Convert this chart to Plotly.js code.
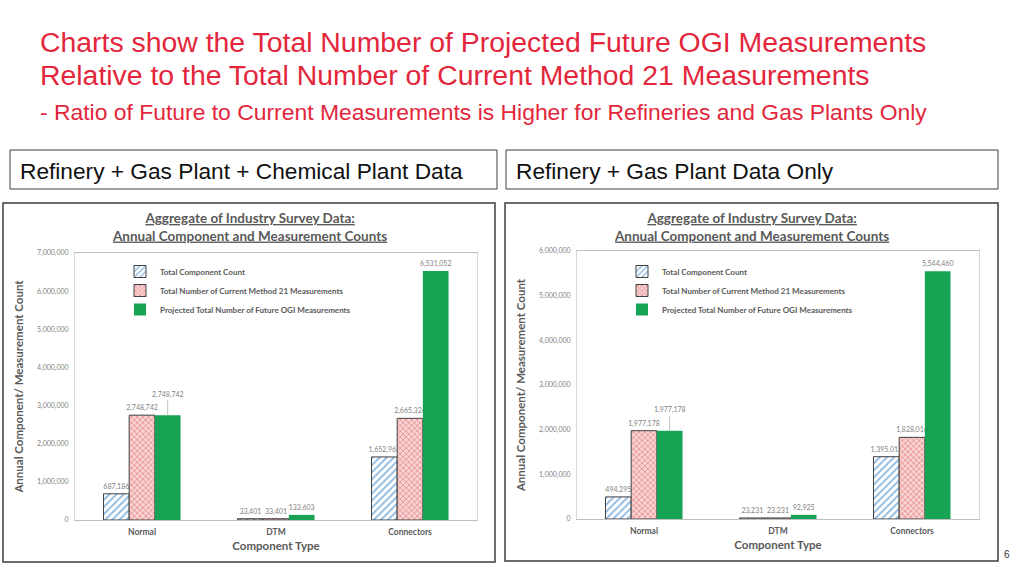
<!DOCTYPE html>
<html>
<head>
<meta charset="utf-8">
<script src="https://cdn.plot.ly/plotly-3.0.1.min.js"></script>
<style>
html,body{margin:0;padding:0;background:#fff;}
#chart{width:1024px;height:576px;}
</style>
</head>
<body>
<div id="chart"></div>
<script>
// ---------- data ----------
const categories = ['Normal', 'DTM', 'Connectors'];
const seriesNames = [
  'Total Component Count',
  'Total Number of Current Method 21 Measurements',
  'Projected Total Number of Future OGI Measurements'
];
// Refinery + Gas Plant + Chemical Plant Data
const allComponentCount = [687186, 33401, 1652961];
const allMethod21 = [2748742, 33401, 2665324];
const allFutureOGI = [2748742, 133603, 6531052];
const allTicks = [0, 1000000, 2000000, 3000000, 4000000, 5000000, 6000000, 7000000];
// Refinery + Gas Plant Data Only
const rgComponentCount = [494295, 23231, 1395013];
const rgMethod21 = [1977178, 23231, 1828016];
const rgFutureOGI = [1977178, 92925, 5544460];
const rgTicks = [0, 1000000, 2000000, 3000000, 4000000, 5000000, 6000000];

const slideTitle1 = 'Charts show the Total Number of Projected Future OGI Measurements';
const slideTitle2 = 'Relative to the Total Number of Current Method 21 Measurements';
const slideTitle3 = '- Ratio of Future to Current Measurements is Higher for Refineries and Gas Plants Only';
const panelLabels = ['Refinery + Gas Plant + Chemical Plant Data', 'Refinery + Gas Plant Data Only'];
const chartTitle = '<u>Aggregate of Industry Survey Data:</u><br><u>Annual Component and Measurement Counts</u>';
const xTitle = 'Component Type';
const yTitle = 'Annual Component/ Measurement Count';
const pageNumber = '6';

// ---------- helpers ----------
const W = 1024, H = 576;
const px = x => x / W;
const py = y => 1 - y / H;
const fmt = v => v.toLocaleString('en-US');
const CF = 'Lato, "Open Sans", sans-serif';
const SF = '"Liberation Sans", Arial, sans-serif';
const gray = '#595959';
const BARGAP = 0.425;
const leaderIdx = 0; // Normal OGI label lifted with a leader line

const styles = [
  {marker: {color: '#ffffff', pattern: {shape: '/', fgcolor: '#8db8e2', bgcolor: '#ffffff', size: 5, solidity: 0.35}, line: {color: '#404040', width: 1}}},
  {marker: {color: '#f4b8b8', pattern: {shape: 'x', fgcolor: '#e07c7c', bgcolor: '#f9d3d3', size: 4, solidity: 0.3}, line: {color: '#404040', width: 1}}},
  {marker: {color: '#17a354', line: {color: '#17a354', width: 0}}}
];

const panels = [
  {xa: 'x', ya: 'y', legend: 'legend', series: [allComponentCount, allMethod21, allFutureOGI], ticks: allTicks,
   plot: {l: 75, r: 477, t: 253, b: 520}, box: {l: 3, r: 495, t: 203, b: 562}, label: {l: 10, r: 497}, center: 249, legendX: 120},
  {xa: 'x2', ya: 'y2', legend: 'legend2', series: [rgComponentCount, rgMethod21, rgFutureOGI], ticks: rgTicks,
   plot: {l: 577, r: 979, t: 251, b: 519}, box: {l: 505, r: 998, t: 203, b: 561}, label: {l: 506, r: 998}, center: 751, legendX: 622}
];

const traces = [];
const annotations = [];
const shapes = [];
const layout = {
  width: W, height: H,
  margin: {l: 0, r: 0, t: 0, b: 0},
  paper_bgcolor: '#ffffff', plot_bgcolor: '#ffffff',
  barmode: 'group', bargap: BARGAP, bargroupgap: 0,
  hovermode: false, showlegend: true,
  font: {family: CF, color: gray}
};

panels.forEach((p, pi) => {
  const sfx = pi === 0 ? '' : '2';
  p.series.forEach((vals, si) => {
    traces.push(Object.assign({
      type: 'bar', x: categories, y: vals, name: seriesNames[si],
      xaxis: p.xa, yaxis: p.ya, legend: p.legend,
      texttemplate: '%{y:,}',
      textposition: categories.map((c, i) => (si === 2 && i === leaderIdx) ? 'none' : 'outside'),
      textfont: {family: CF, size: 7, color: '#7f7f7f'},
      constraintext: 'none', cliponaxis: false
    }, styles[si]));
  });
  // lifted label with leader line
  const ogi = p.series[2];
  annotations.push({
    xref: p.xa, yref: p.ya, x: leaderIdx + (1 - BARGAP) / 3, y: ogi[leaderIdx],
    text: fmt(ogi[leaderIdx]), showarrow: true, arrowhead: 0, arrowwidth: 0.7, arrowcolor: '#a6a6a6',
    ax: 0, ay: -21, font: {family: CF, size: 7, color: '#7f7f7f'}
  });
  layout['xaxis' + sfx] = {
    domain: [px(p.plot.l), px(p.plot.r)], anchor: p.ya, type: 'category',
    showline: true, linecolor: '#bfbfbf', linewidth: 1, mirror: true, ticks: '',
    ticklabelstandoff: 4,
    tickfont: {family: CF, size: 8.5, color: gray, weight: 700},
    title: {text: xTitle, font: {family: CF, size: 11.5, color: gray, weight: 700}, standoff: 5},
    fixedrange: true
  };
  layout['yaxis' + sfx] = {
    domain: [py(p.plot.b), py(p.plot.t)], anchor: p.xa,
    range: [0, p.ticks[p.ticks.length - 1]], tickvals: p.ticks, tickformat: ',',
    showgrid: false, zeroline: false, showline: true, linecolor: '#d9d9d9', mirror: true, ticks: '',
    ticklabelstandoff: 4,
    tickfont: {family: CF, size: 7, color: '#7f7f7f'},
    title: {text: yTitle, font: {family: CF, size: 11.5, color: gray, weight: 700}, standoff: 10},
    fixedrange: true
  };
  layout[p.legend] = {
    x: px(p.legendX), y: py(257), xanchor: 'left', yanchor: 'top',
    bgcolor: 'rgba(0,0,0,0)', borderwidth: 0,
    font: {family: CF, size: 8, color: gray, weight: 700},
    itemclick: false, itemdoubleclick: false
  };
  // chart title
  annotations.push({
    xref: 'paper', yref: 'paper', x: px(p.center), y: py(227), xanchor: 'center', yanchor: 'middle',
    text: chartTitle, showarrow: false, font: {family: CF, size: 13.5, color: gray, weight: 700}
  });
  // panel frame
  shapes.push({type: 'rect', xref: 'paper', yref: 'paper', x0: px(p.box.l), x1: px(p.box.r), y0: py(p.box.b), y1: py(p.box.t),
    line: {color: '#3f3f3f', width: 1.5}, fillcolor: 'rgba(0,0,0,0)'});
  // label box
  shapes.push({type: 'rect', xref: 'paper', yref: 'paper', x0: px(p.label.l), x1: px(p.label.r), y0: py(189), y1: py(150),
    line: {color: '#3f3f3f', width: 1}, fillcolor: 'rgba(0,0,0,0)'});
  annotations.push({
    xref: 'paper', yref: 'paper', x: px(p.label.l + 8), y: py(171), xanchor: 'left', yanchor: 'middle',
    text: panelLabels[pi], showarrow: false, font: {family: SF, size: 22.7, color: '#111111'}
  });
});

// slide title
const red = '#e3263b';
[[slideTitle1, 42.5, 28.4], [slideTitle2, 75.5, 28.4], [slideTitle3, 112, 22.9]].forEach(([t, y, s]) => {
  annotations.push({xref: 'paper', yref: 'paper', x: px(38), y: py(y), xanchor: 'left', yanchor: 'middle',
    text: t, showarrow: false, font: {family: SF, size: s, color: red}});
});
annotations.push({xref: 'paper', yref: 'paper', x: px(1007), y: py(554), xanchor: 'center', yanchor: 'middle',
  text: pageNumber, showarrow: false, font: {family: SF, size: 10, color: '#333333'}});

layout.annotations = annotations;
layout.shapes = shapes;

Plotly.newPlot('chart', traces, layout, {displayModeBar: false, staticPlot: true});
</script>
</body>
</html>
